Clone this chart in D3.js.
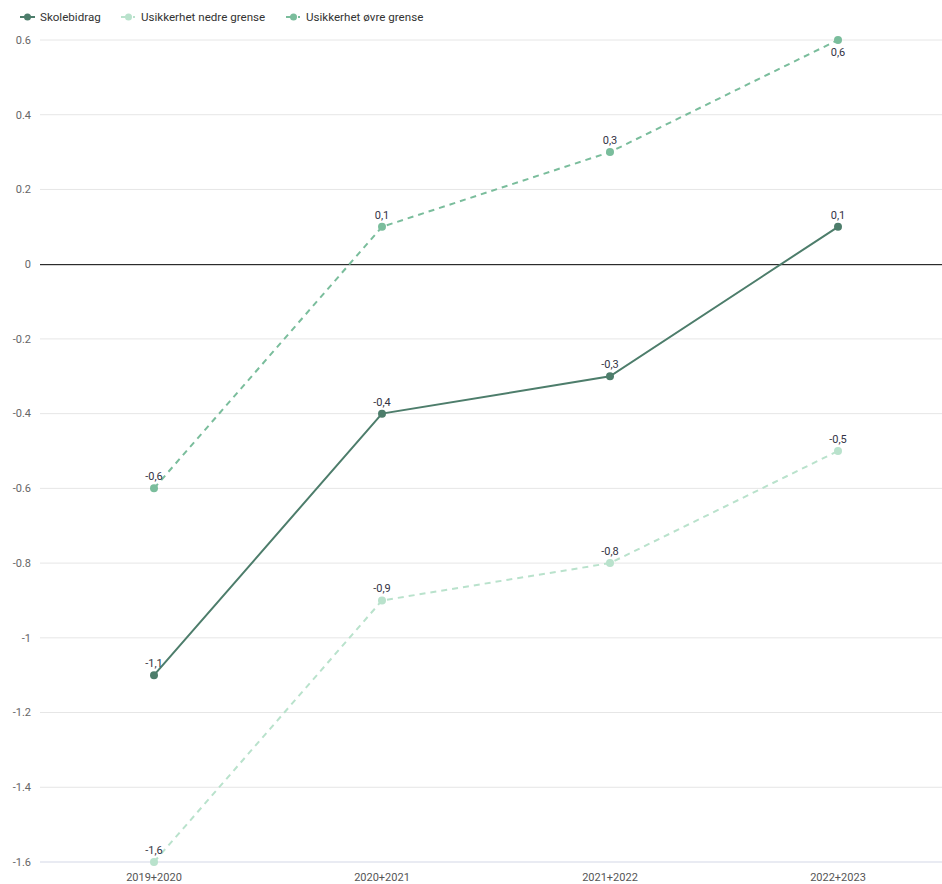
<!DOCTYPE html>
<html><head><meta charset="utf-8">
<script src="https://cdn.jsdelivr.net/npm/d3@7"></script>
<style>body{margin:0;background:#fff;font-family:Roboto,"Open Sans",sans-serif;}</style>
</head><body><svg id="c" width="942" height="884"></svg>
<script>
const categories = ["2019+2020","2020+2021","2021+2022","2022+2023"];
const skolebidrag = [-1.1,-0.4,-0.3,0.1];
const nedre = [-1.6,-0.9,-0.8,-0.5];
const ovre = [-0.6,0.1,0.3,0.6];
const yTicks = [0.6,0.4,0.2,0,-0.2,-0.4,-0.6,-0.8,-1,-1.2,-1.4,-1.6];
const seriesNames = ["Skolebidrag","Usikkerhet nedre grense","Usikkerhet øvre grense"];
const colors = ["#4d7d6b","#b9e2cc","#7abd9c"];

const svg = d3.select("#c");
const x = d3.scalePoint().domain(categories).range([40,952]).padding(0.5);
const y = d3.scaleLinear().domain([-1.6,0.6]).range([862,40]);

svg.append("g").selectAll("line").data(yTicks.filter(t=>t!==0 && t!==-1.6)).join("line")
  .attr("x1",40).attr("x2",942).attr("y1",d=>y(d)).attr("y2",d=>y(d))
  .attr("stroke","#e6e6e6").attr("stroke-width",1);
svg.append("line").attr("x1",40).attr("x2",942).attr("y1",y(-1.6)).attr("y2",y(-1.6))
  .attr("stroke","#d3d7e6").attr("stroke-width",1);
svg.append("line").attr("x1",40).attr("x2",942).attr("y1",y(0)+0.5).attr("y2",y(0)+0.5)
  .attr("stroke","#000").attr("stroke-width",1);

svg.append("g").selectAll("text").data(yTicks).join("text")
  .attr("x",31).attr("y",d=>y(d)).attr("dy","0.35em").attr("text-anchor","end")
  .attr("font-size",11).attr("fill","#666").text(d=>String(d));

svg.append("g").selectAll("text").data(categories).join("text")
  .attr("x",d=>x(d)).attr("y",881).attr("text-anchor","middle")
  .attr("font-size",11).attr("fill","#555").text(d=>d);

const series = [
  {name:seriesNames[0], vals:skolebidrag, color:colors[0], dash:null, width:2},
  {name:seriesNames[1], vals:nedre, color:colors[1], dash:"6,5", width:2},
  {name:seriesNames[2], vals:ovre, color:colors[2], dash:"6,5", width:2}
];
const line = d3.line().x((d,i)=>x(categories[i])).y(d=>y(d));
const fmtLbl = d => String(d).replace(".",",");

[1,2,0].forEach(si=>{
  const s = series[si];
  const g = svg.append("g");
  g.append("path").attr("d",line(s.vals)).attr("fill","none").attr("stroke",s.color)
    .attr("stroke-width",s.width).attr("stroke-dasharray",s.dash);
  g.selectAll("circle").data(s.vals).join("circle")
    .attr("cx",(d,i)=>x(categories[i])).attr("cy",d=>y(d)).attr("r",4).attr("fill",s.color);
  g.selectAll("text").data(s.vals).join("text")
    .attr("x",(d,i)=>x(categories[i]))
    .attr("y",d=> d>=0.6 ? y(d)+16 : y(d)-8)
    .attr("text-anchor","middle").attr("font-size",11).attr("fill","#333344")
    .text(d=>fmtLbl(d));
});

const lx = [20,121,286];
const lg = svg.append("g");
series.forEach((s,i)=>{
  const g = lg.append("g").attr("transform",`translate(${lx[i]},17)`);
  g.append("line").attr("x1",0).attr("x2",15).attr("y1",0).attr("y2",0)
    .attr("stroke",s.color).attr("stroke-width",2).attr("stroke-dasharray",s.dash?"10,2,2":null);
  g.append("circle").attr("cx",7.5).attr("cy",0).attr("r",3.5).attr("fill",s.color);
  g.append("text").attr("x",20).attr("y",0).attr("dy","0.35em").attr("font-size",11.6)
    .attr("fill","#333").text(s.name);
});
</script></body></html>
